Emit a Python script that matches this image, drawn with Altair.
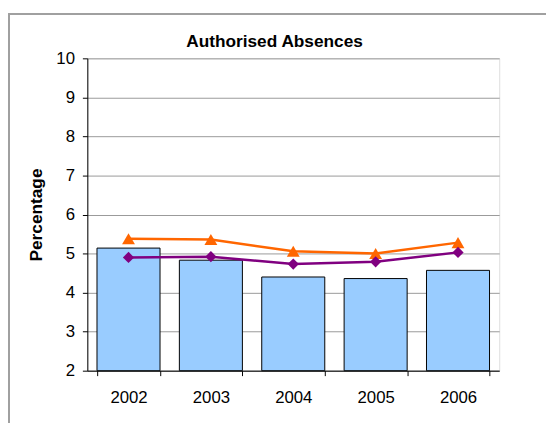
import altair as alt
import pandas as pd

years = ["2002", "2003", "2004", "2005", "2006"]
bar_values = [5.14, 4.83, 4.40, 4.36, 4.57]
orange_values = [5.38, 5.36, 5.06, 5.00, 5.28]
purple_values = [4.90, 4.92, 4.73, 4.79, 5.03]
y_ticks = [2, 3, 4, 5, 6, 7, 8, 9, 10]
chart_title = ["Authorised Absences"]

df = pd.DataFrame({
    "Year": years,
    "Bar": bar_values,
    "Orange": orange_values,
    "Purple": purple_values,
})

FONT = "Liberation Sans"
W, H = 418, 317

x_axis = alt.Axis(
    title=None, labelAngle=0, labelFontSize=17, labelFont=FONT,
    labelColor="black", tickBand="extent", tickSize=5, tickColor="black",
    domainColor="black", labelPadding=14, grid=False,
)
x_scale = alt.Scale(paddingInner=0.235, paddingOuter=0.1175)

y_axis = alt.Axis(
    title="Percentage", values=y_ticks, tickSize=5, labelOverlap=False,
    tickColor="black", domainColor="black", labelFontSize=17,
    labelFont=FONT, labelColor="black", labelPadding=8,
    grid=True, gridColor="#999999", gridWidth=1,
    titleFont=FONT, titleFontSize=17.5, titleFontWeight="bold",
    titleColor="black", titleAngle=-90, titleX=-46,
    titleBaseline="alphabetic",
)
y_scale = alt.Scale(domain=[2, 10], zero=False, nice=False)

bars = alt.Chart(df).mark_bar(
    color="#99CCFF", stroke="black", strokeWidth=1
).encode(
    x=alt.X("Year:N", sort=years, scale=x_scale, axis=x_axis),
    y=alt.Y("Bar:Q", scale=y_scale, axis=y_axis),
    y2=alt.datum(2),
)

orange_line = alt.Chart(df).mark_line(
    color="#FF6600", strokeWidth=2.5,
    point=alt.OverlayMarkDef(shape="triangle-up", size=170, color="#FF6600", filled=True, opacity=1),
).encode(
    x=alt.X("Year:N", sort=years, scale=x_scale, axis=x_axis),
    y=alt.Y("Orange:Q", scale=y_scale, axis=y_axis),
)

purple_line = alt.Chart(df).mark_line(
    color="#800080", strokeWidth=2.5,
    point=alt.OverlayMarkDef(shape="diamond", size=130, color="#800080", filled=True, opacity=1),
).encode(
    x=alt.X("Year:N", sort=years, scale=x_scale, axis=x_axis),
    y=alt.Y("Purple:Q", scale=y_scale, axis=y_axis),
)

border_top = alt.Chart(df).mark_rule(color="#A0A0A0", strokeWidth=2).encode(
    x=alt.value(-80), x2=alt.value(470), y=alt.value(-45)
)
border_left = alt.Chart(df).mark_rule(color="#A0A0A0", strokeWidth=2).encode(
    x=alt.value(-79.5), y=alt.value(-45), y2=alt.value(370)
)

title_text = alt.Chart(pd.DataFrame({"t": chart_title})).mark_text(
    font=FONT, fontSize=17.5, fontWeight="bold", color="black",
    align="center", baseline="alphabetic",
).encode(text="t:N", x=alt.value(190), y=alt.value(-11))

chart = alt.layer(border_top, border_left, title_text, bars, orange_line, purple_line).properties(
    width=W, height=H,
    autosize=alt.AutoSizeParams(type="none"),
    padding={"left": 80.5, "top": 48, "right": 47.5, "bottom": 50},
).configure_view(stroke=None).configure(background="white")

chart.save("out.html", embed_options={"renderer": "svg", "actions": False})
